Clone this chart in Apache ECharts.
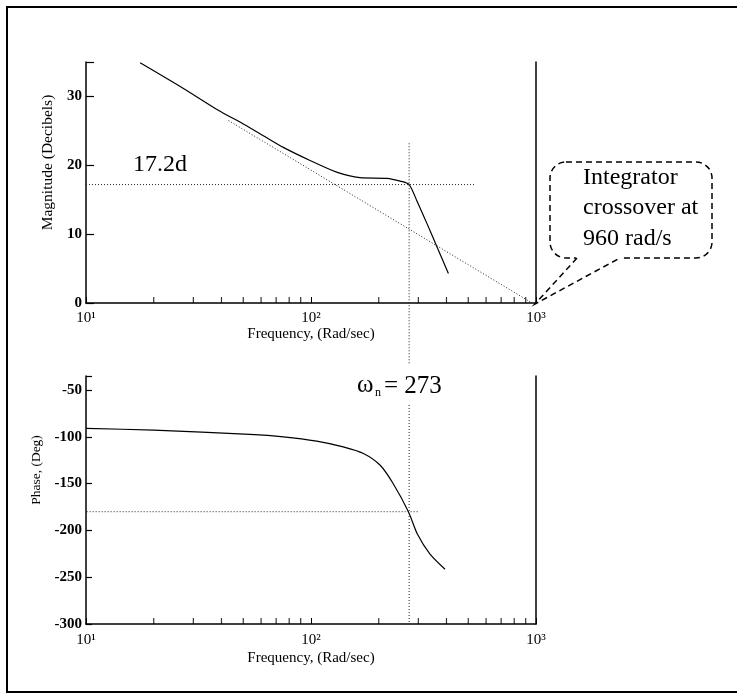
<!DOCTYPE html>
<html>
<head>
<meta charset="utf-8">
<script src="https://cdn.jsdelivr.net/npm/echarts@6/dist/echarts.min.js"></script>
<style>html,body{margin:0;padding:0;background:#fff}#c{width:737px;height:694px}</style>
</head>
<body>
<div id="c"></div>
<script>
// ---- data ----
const magFreq = [17.4, 27, 38.7, 50, 61.4, 75.3, 99, 130, 165, 217, 249, 273, 295, 327, 368, 408];
const magDb   = [34.9, 31.2, 28.0, 26.0, 24.3, 22.6, 20.7, 19.0, 18.2, 18.1, 17.7, 17.2, 14.9, 11.6, 7.7, 4.3];
const asymFreq = [43, 960];
const asymDb   = [26.5, 0];
const peakDb = 17.2;
const peakLineFreq = [10, 535];
const wn = 273;
const wnMagRange = [23.2, -9];
const phaseFreq = [10, 20, 53.5, 75.3, 106, 139, 171, 203, 232, 271, 297, 338, 394];
const phaseDeg  = [-91.0, -92.8, -97.4, -100, -104.6, -110.8, -117.8, -130.4, -150.1, -180, -203.9, -225.4, -241.5];
const phaseRefDeg = -180;
const phaseRefFreq = [8.9, 299];
const wnPhaseRange = [-66, -300];
const minorTickFreqs = [20,30,40,50,60,70,80,90,200,300,400,500,600,700,800,900];
const magTicks = [0, 10, 20, 30];
const phaseTicks = [-300, -250, -200, -150, -100, -50];
const xTickLabels = {10: '10\u00B9', 100: '10\u00B2', 1000: '10\u00B3'};

const FONT = '"Liberation Serif", "Times New Roman", serif';
const zip = (a, b) => a.map((v, i) => [v, b[i]]);
const dotted = {color: '#222', width: 1, type: [1, 2]};

function xAxisCfg(gi, gap, margin) {
  return {
    type: 'log', logBase: 10, min: 10, max: 1000, gridIndex: gi,
    name: 'Frequency, (Rad/sec)', nameLocation: 'middle', nameGap: gap,
    nameTextStyle: {fontFamily: FONT, fontSize: 15, color: '#000'},
    axisLine: {lineStyle: {color: '#000', width: 1.5}},
    axisTick: {inside: true, length: 6, lineStyle: {color: '#000'}},
    axisLabel: {fontFamily: FONT, fontSize: 15, color: '#000', margin: margin,
      formatter: v => xTickLabels[Math.round(v)] || ''},
    splitLine: {show: false}
  };
}
function yAxisCfg(gi, min, max, interval, ticks, name, nameSize, gap, pad, tickLen) {
  return {
    type: 'value', gridIndex: gi, min: min, max: max, interval: interval,
    name: name, nameLocation: 'middle', nameGap: gap, nameRotate: 90,
    nameTextStyle: {fontFamily: FONT, fontSize: nameSize, color: '#000', padding: [0, 0, 0, pad]},
    axisLine: {show: true, lineStyle: {color: '#000', width: 1.5}},
    axisTick: {show: true, inside: true, length: tickLen, lineStyle: {color: '#000', width: 1.2}},
    axisLabel: {fontFamily: FONT, fontSize: 15, fontWeight: 'bold', color: '#000', margin: 4,
      customValues: ticks},
    splitLine: {show: false}
  };
}
function rightAxis(gi, min, max) {
  return {type: 'value', gridIndex: gi, position: 'right', min: min, max: max,
    axisLine: {show: true, lineStyle: {color: '#000', width: 1.5}},
    axisTick: {show: false}, axisLabel: {show: false}, splitLine: {show: false}};
}
function minorTicks(xi, yi, yv) {
  return {type: 'scatter', xAxisIndex: xi, yAxisIndex: yi, symbol: 'rect',
    symbolSize: [1.2, 6], symbolOffset: [0, -3], silent: true,
    itemStyle: {color: '#000'}, data: minorTickFreqs.map(f => [f, yv])};
}

const chart = echarts.init(document.getElementById('c'), null, {renderer: 'canvas'});
chart.setOption({
  animation: false,
  backgroundColor: '#fff',
  grid: [
    {left: 86, top: 62, width: 450, height: 241},
    {left: 86, top: 376, width: 450, height: 248}
  ],
  xAxis: [xAxisCfg(0, 24, 8), xAxisCfg(1, 27, 9)],
  yAxis: [
    yAxisCfg(0, 0, 35, 10, magTicks, 'Magnitude (Decibels)', 15.5, 30, 40, 8),
    yAxisCfg(1, -300, -35, 50, phaseTicks, 'Phase, (Deg)', 13.5, 38, 60, 6),
    rightAxis(0, 0, 35),
    rightAxis(1, -300, -35)
  ],
  series: [
    {type: 'line', xAxisIndex: 0, yAxisIndex: 0, data: zip(magFreq, magDb), smooth: 0.25,
      showSymbol: false, lineStyle: {color: '#000', width: 1.2}},
    {type: 'line', xAxisIndex: 0, yAxisIndex: 0, data: zip(asymFreq, asymDb),
      showSymbol: false, lineStyle: dotted, clip: false},
    {type: 'line', xAxisIndex: 0, yAxisIndex: 0, data: peakLineFreq.map(f => [f, peakDb]),
      showSymbol: false, lineStyle: dotted},
    {type: 'line', xAxisIndex: 0, yAxisIndex: 0, data: wnMagRange.map(v => [wn, v]),
      showSymbol: false, lineStyle: dotted, clip: false},
    minorTicks(0, 0, 0),
    {type: 'line', xAxisIndex: 1, yAxisIndex: 1, data: zip(phaseFreq, phaseDeg), smooth: 0.25,
      showSymbol: false, lineStyle: {color: '#000', width: 1.2}},
    {type: 'line', xAxisIndex: 1, yAxisIndex: 1, data: phaseRefFreq.map(f => [f, phaseRefDeg]),
      showSymbol: false, lineStyle: dotted, clip: false},
    {type: 'line', xAxisIndex: 1, yAxisIndex: 1, data: wnPhaseRange.map(v => [wn, v]),
      showSymbol: false, lineStyle: dotted, clip: false},
    minorTicks(1, 1, -300)
  ],
  graphic: [
    {type: 'rect', shape: {x: 7, y: 7, width: 740, height: 685}, silent: true,
      style: {fill: 'none', stroke: '#000', lineWidth: 2}},
    {type: 'text', x: 133, y: 165, style: {text: '17.2d', font: '24px ' + FONT, fill: '#000', verticalAlign: 'middle'}},
    {type: 'text', x: 357, y: 385, style: {text: '\u03C9', font: '25px ' + FONT, fill: '#000', verticalAlign: 'middle'}},
    {type: 'text', x: 375, y: 393, style: {text: 'n', font: '12px ' + FONT, fill: '#000', verticalAlign: 'middle'}},
    {type: 'text', x: 384, y: 386, style: {text: '= 273', font: '25px ' + FONT, fill: '#000', verticalAlign: 'middle'}},
    {type: 'rect', silent: true, shape: {x: 550, y: 162, width: 162, height: 96, r: 16},
      style: {fill: '#fff', stroke: '#000', lineWidth: 1.5, lineDash: [6, 4]}},
    {type: 'line', silent: true, shape: {x1: 576, y1: 258, x2: 621, y2: 258},
      style: {stroke: '#fff', lineWidth: 3}},
    {type: 'polyline', silent: true, shape: {points: [[577, 258], [535, 304], [620, 258]]},
      style: {fill: 'none', stroke: '#000', lineWidth: 1.5, lineDash: [6, 4]}},
    {type: 'text', x: 583, y: 178, style: {text: 'Integrator', font: '24px ' + FONT, fill: '#000', verticalAlign: 'middle'}},
    {type: 'text', x: 583, y: 208, style: {text: 'crossover at', font: '24px ' + FONT, fill: '#000', verticalAlign: 'middle'}},
    {type: 'text', x: 583, y: 239, style: {text: '960 rad/s', font: '24px ' + FONT, fill: '#000', verticalAlign: 'middle'}}
  ]
});
</script>
</body>
</html>
